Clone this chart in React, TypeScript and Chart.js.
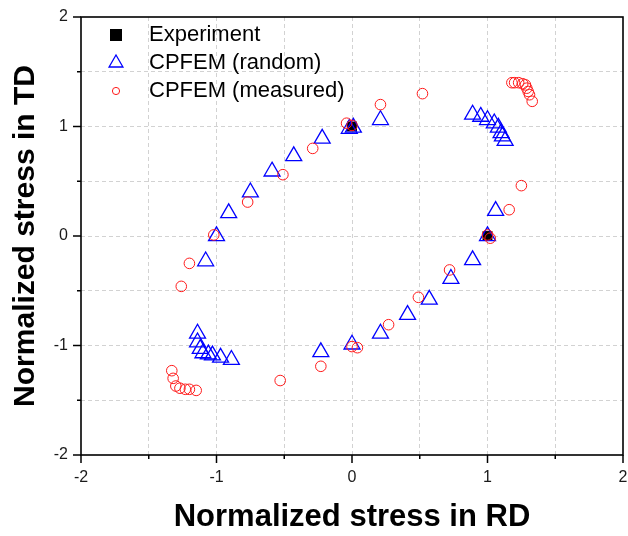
import React, { useEffect, useRef } from 'react';
import { Chart, registerables } from 'chart.js';

Chart.register(...registerables);

const FONT = '"Liberation Sans", Arial, Helvetica, sans-serif';

const seriesNames = ['Experiment', 'CPFEM (random)', 'CPFEM (measured)'];
const xTitle = 'Normalized stress in RD';
const yTitle = 'Normalized stress in TD';
const axisMin = -2;
const axisMax = 2;
const axisStep = 0.5;

const experimentRD = [1.0, 0.0];
const experimentTD = [0.0, 1.0];

const randomRD = [
  -1.0, -0.91, -0.75, -0.59, -0.43, -0.22, -0.02, 0.01, 0.21,
  0.89, 0.95, 1.0, 1.05, 1.08, 1.1, 1.11, 1.13,
  1.06, 1.0, 0.89, 0.73, 0.57, 0.41, 0.21, 0.0, -0.23,
  -0.89, -0.97, -1.03, -1.06, -1.1, -1.12, -1.14, -1.14, -1.08,
];
const randomTD = [
  0.0, 0.21, 0.4, 0.59, 0.73, 0.89, 0.98, 0.99, 1.06,
  1.11, 1.09, 1.06, 1.03, 0.99, 0.94, 0.91, 0.87,
  0.23, 0.0, -0.22, -0.39, -0.58, -0.72, -0.89, -0.99, -1.06,
  -1.13, -1.11, -1.09, -1.08, -1.07, -1.03, -0.97, -0.89, -0.23,
];

const measuredRD = [
  -1.02, -1.2, -1.26,
  -1.33, -1.32, -1.3, -1.27, -1.23, -1.2, -1.15,
  -0.53, -0.23, 0.0, 0.04, 0.27, 0.49, 0.72, 1.0, 1.02, 1.16, 1.25,
  1.33, 1.31, 1.3, 1.29, 1.28, 1.26, 1.23, 1.2, 1.18,
  0.52, 0.21, 0.0, -0.04, -0.29, -0.51, -0.77,
];
const measuredTD = [
  0.01, -0.25, -0.46,
  -1.23, -1.3, -1.37, -1.39, -1.4, -1.4, -1.41,
  -1.32, -1.19, -1.01, -1.02, -0.81, -0.56, -0.31, 0.01, -0.02, 0.24, 0.46,
  1.23, 1.29, 1.32, 1.35, 1.38, 1.39, 1.4, 1.4, 1.4,
  1.3, 1.2, 1.01, 1.03, 0.8, 0.56, 0.31,
];

const toPoints = (xs: number[], ys: number[]) => xs.map((x, i) => ({ x, y: ys[i] }));

const framePlugin = {
  id: 'frameTicksLegend',
  afterDatasetsDraw(chart: any) {
    const { ctx, chartArea, scales } = chart;
    const { left, right, top, bottom } = chartArea;
    const xs = scales.x;
    const ys = scales.y;
    ctx.save();
    ctx.strokeStyle = '#000';
    ctx.lineWidth = 1.6;
    ctx.strokeRect(left, top, right - left, bottom - top);
    ctx.lineWidth = 1.5;
    for (let v = axisMin; v <= axisMax + 1e-9; v += axisStep) {
      const len = Math.abs(v - Math.round(v)) < 1e-9 ? 8 : 4;
      const px = xs.getPixelForValue(v);
      ctx.beginPath();
      ctx.moveTo(px, bottom);
      ctx.lineTo(px, bottom + len);
      ctx.stroke();
      const py = ys.getPixelForValue(v);
      ctx.beginPath();
      ctx.moveTo(left, py);
      ctx.lineTo(left - len, py);
      ctx.stroke();
    }

    // legend
    const mx = left + 35;
    const tx = left + 68;
    const rowY = [top + 18, top + 46, top + 74];
    ctx.font = `22px ${FONT}`;
    ctx.textBaseline = 'middle';
    ctx.textAlign = 'left';
    chart.data.datasets.forEach((ds: any, i: number) => {
      const y = rowY[i];
      ctx.beginPath();
      if (ds.pointStyle === 'rect') {
        ctx.fillStyle = ds.backgroundColor;
        ctx.fillRect(mx - 6, y - 6, 12, 12);
      } else if (ds.pointStyle === 'triangle') {
        const r = 8;
        ctx.moveTo(mx, y - r);
        ctx.lineTo(mx + r * Math.sin((2 * Math.PI) / 3), y + r / 2);
        ctx.lineTo(mx - r * Math.sin((2 * Math.PI) / 3), y + r / 2);
        ctx.closePath();
        ctx.strokeStyle = ds.borderColor;
        ctx.lineWidth = 1.3;
        ctx.stroke();
      } else {
        ctx.arc(mx, y, 3.6, 0, Math.PI * 2);
        ctx.strokeStyle = ds.borderColor;
        ctx.lineWidth = 1;
        ctx.stroke();
      }
      ctx.fillStyle = '#000';
      ctx.fillText(ds.label, tx, y);
    });
    ctx.restore();
  },
};

export default function App() {
  const canvasRef = useRef<HTMLCanvasElement | null>(null);

  useEffect(() => {
    if (!canvasRef.current) return;
    const tickCb = (v: any) => {
      const n = Number(v);
      return Math.abs(n - Math.round(n)) < 1e-9 ? String(Math.round(n)) : '';
    };
    const gridColor = (c: any) => {
      const v = c.tick ? c.tick.value : 0;
      return v <= axisMin || v >= axisMax ? 'rgba(0,0,0,0)' : '#d2d2d2';
    };
    const zeroPad = (s: any) => {
      s.paddingLeft = 0;
      s.paddingRight = 0;
      s.paddingTop = 0;
      s.paddingBottom = 0;
    };
    const chart = new Chart(canvasRef.current, {
      type: 'scatter',
      data: {
        datasets: [
          {
            label: seriesNames[0],
            data: toPoints(experimentRD, experimentTD),
            pointStyle: 'rect',
            pointRadius: 7,
            pointHoverRadius: 7,
            backgroundColor: '#000000',
            borderColor: '#000000',
            borderWidth: 0,
            order: 3,
          },
          {
            label: seriesNames[1],
            data: toPoints(randomRD, randomTD),
            pointStyle: 'triangle',
            pointRadius: 9.2,
            pointHoverRadius: 9.2,
            backgroundColor: 'rgba(0,0,0,0)',
            borderColor: '#0000ff',
            borderWidth: 1.3,
            order: 2,
          },
          {
            label: seriesNames[2],
            data: toPoints(measuredRD, measuredTD),
            pointStyle: 'circle',
            pointRadius: 5.3,
            pointHoverRadius: 5.3,
            backgroundColor: 'rgba(0,0,0,0)',
            borderColor: '#ff1a1a',
            borderWidth: 1,
            order: 1,
          },
        ] as any,
      },
      options: {
        animation: false,
        responsive: false,
        maintainAspectRatio: false,
        devicePixelRatio: 1,
        layout: { autoPadding: false, padding: { left: 0, top: 17, right: 5, bottom: 0 } },
        plugins: {
          legend: { display: false },
          tooltip: { enabled: false },
        },
        scales: {
          x: {
            type: 'linear',
            min: axisMin,
            max: axisMax,
            ticks: {
              stepSize: axisStep,
              autoSkip: false,
              maxRotation: 0,
              callback: tickCb,
              padding: 13,
              color: '#1a1a1a',
              font: { family: FONT, size: 16 },
            },
            grid: { color: gridColor, lineWidth: 1, drawTicks: false },
            border: { display: false, dash: [4, 3] },
            title: {
              display: true,
              text: xTitle,
              color: '#000',
              font: { family: FONT, size: 31, weight: 'bold' },
              padding: { top: 0, bottom: 0 },
            },
            afterFit: (s: any) => {
              s.height = 81;
              zeroPad(s);
            },
          },
          y: {
            type: 'linear',
            min: axisMin,
            max: axisMax,
            ticks: {
              stepSize: axisStep,
              autoSkip: false,
              callback: tickCb,
              padding: 13,
              color: '#1a1a1a',
              font: { family: FONT, size: 16 },
            },
            grid: { color: gridColor, lineWidth: 1, drawTicks: false },
            border: { display: false, dash: [4, 3] },
            title: {
              display: true,
              text: yTitle,
              color: '#000',
              font: { family: FONT, size: 30, weight: 'bold' },
              padding: { top: 8, bottom: 0 },
            },
            afterFit: (s: any) => {
              s.width = 81;
              zeroPad(s);
            },
          },
        },
      } as any,
      plugins: [framePlugin],
    });
    return () => chart.destroy();
  }, []);

  return (
    <div
      style={{
        position: 'fixed',
        left: 0,
        top: 0,
        width: 628,
        height: 536,
        background: '#ffffff',
      }}
    >
      <canvas ref={canvasRef} width={628} height={536} style={{ display: 'block' }} />
    </div>
  );
}
